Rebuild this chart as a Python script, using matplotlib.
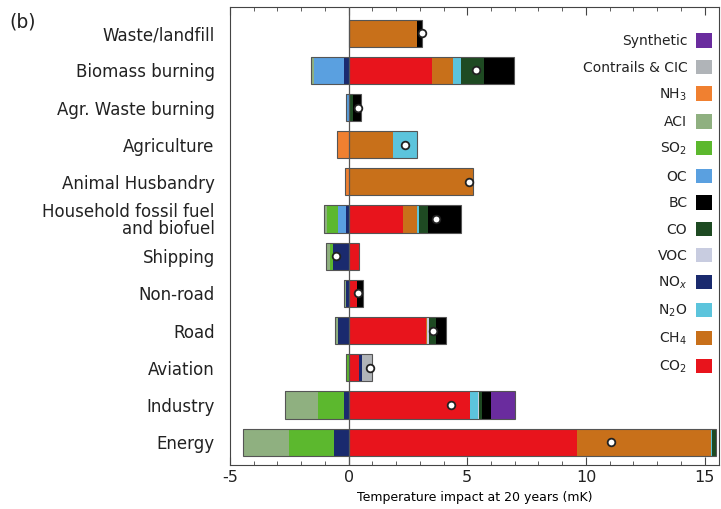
import numpy as np
import matplotlib.pyplot as plt
from matplotlib.patches import Patch
from matplotlib.ticker import MultipleLocator

# sectors, top to bottom
sectors = ["Waste/landfill", "Biomass burning", "Agr. Waste burning", "Agriculture",
           "Animal Husbandry", "Household fossil fuel\nand biofuel", "Shipping",
           "Non-road", "Road", "Aviation", "Industry", "Energy"]

# temperature impact at 20 years (mK) per species, same order as sectors
co2 = [0, 3.53, 0, 0, 0, 2.30, 0.42, 0.35, 3.24, 0.45, 5.13, 9.62]
ch4 = [2.90, 0.85, 0.05, 1.88, 5.25, 0.60, 0, 0, 0.05, 0, 0, 5.63]
n2o = [0, 0.35, 0, 0.98, 0, 0.05, 0, 0, 0, 0, 0.34, 0.08]
nox = [0, -0.20, 0, 0, 0, -0.10, -0.65, -0.10, -0.45, 0.10, -0.20, -0.63]
voc = [0, 0, 0, 0, 0, 0.03, 0, 0, 0.08, 0, 0.02, 0]
co = [0, 0.97, 0.15, 0, 0, 0.35, 0, 0, 0.30, 0, 0.15, 0.17]
bc = [0.20, 1.26, 0.30, 0, 0, 1.42, 0, 0.25, 0.45, 0, 0.35, 0]
oc = [0, -1.27, -0.10, 0, 0, -0.35, 0, 0, 0, 0, 0, 0]
so2 = [0, 0, 0, 0, 0, -0.45, -0.15, 0, 0, -0.05, -1.10, -1.89]
aci = [0, -0.13, 0, 0, 0, -0.15, -0.15, -0.10, -0.12, -0.05, -1.39, -1.93]
nh3 = [0, 0, 0, -0.50, -0.17, 0, 0, 0, 0, 0, 0, 0]
contrails = [0, 0, 0, 0, 0, 0, 0, 0, 0, 0.45, 0, 0]
synthetic = [0, 0, 0, 0, 0, 0, 0, 0, 0, 0, 1.00, 0]

species = [
    ("CO$_2$", co2, "#e8141c"),
    ("CH$_4$", ch4, "#c8701a"),
    ("N$_2$O", n2o, "#5cc4dc"),
    ("NO$_x$", nox, "#1a2a6e"),
    ("VOC", voc, "#c8cce0"),
    ("CO", co, "#1e4a22"),
    ("BC", bc, "#000000"),
    ("OC", oc, "#5aa0e0"),
    ("SO$_2$", so2, "#5cb82e"),
    ("ACI", aci, "#8fb080"),
    ("NH$_3$", nh3, "#f08030"),
    ("Contrails & CIC", contrails, "#b0b4b8"),
    ("Synthetic", synthetic, "#6a2c9e"),
]

plt.rcParams['font.family'] = 'DejaVu Sans'
plt.rcParams['axes.unicode_minus'] = False
plt.rcParams['text.color'] = '#222222'

fig = plt.figure(figsize=(7.21, 5.09), dpi=100)
ax = fig.add_axes([0.319, 0.086, 0.678, 0.9])

y = np.arange(len(sectors))[::-1]
h = 0.73
pos = np.zeros(len(sectors))
neg = np.zeros(len(sectors))
for name, vals, col in species:
    v = np.array(vals, dtype=float)
    p = np.where(v > 0, v, 0)
    n = np.where(v < 0, v, 0)
    ax.barh(y, p, left=pos, height=h, color=col, linewidth=0, zorder=2)
    ax.barh(y, n, left=neg, height=h, color=col, linewidth=0, zorder=2)
    pos += p
    neg += n

# outline of each stacked bar
ax.barh(y, pos - neg, left=neg, height=h, fill=False, edgecolor="#555555",
        linewidth=0.8, zorder=3)

ax.axvline(0, color="#555555", linewidth=0.9, zorder=4)

net = pos + neg
ax.plot(net, y, 'o', ms=5.5, mfc='white', mec='#222222', mew=1.3, zorder=5, ls='none')

ax.set_xlim(-5, 15.6)
ax.set_ylim(-0.62, 11.7)
ax.set_yticks(y)
ax.set_yticklabels(sectors, fontsize=12, linespacing=0.95, color='#222222')
ax.tick_params(axis='y', length=0, pad=11)
ax.xaxis.set_major_locator(MultipleLocator(5))
ax.xaxis.set_minor_locator(MultipleLocator(1))
ax.tick_params(axis='x', which='both', direction='in', top=True, labelsize=11.5,
               color='#444444', labelcolor='#222222')
ax.tick_params(axis='x', which='major', length=6)
ax.tick_params(axis='x', which='minor', length=3)
ax.set_xlabel("Temperature impact at 20 years (mK)", fontsize=9, labelpad=4)
for s in ax.spines.values():
    s.set_color('#444444')

handles = [Patch(facecolor=col, edgecolor='none', label=name) for name, vals, col in species[::-1]]
ax.legend(handles=handles, loc='upper right', frameon=False, markerfirst=False,
          fontsize=10, handlelength=1.2, handleheight=1.2, labelspacing=0.84,
          handletextpad=0.6, borderaxespad=0, bbox_to_anchor=(0.998, 0.955))

fig.text(0.013, 0.945, "(b)", fontsize=13.5)

fig.savefig("out.png", dpi=100)
